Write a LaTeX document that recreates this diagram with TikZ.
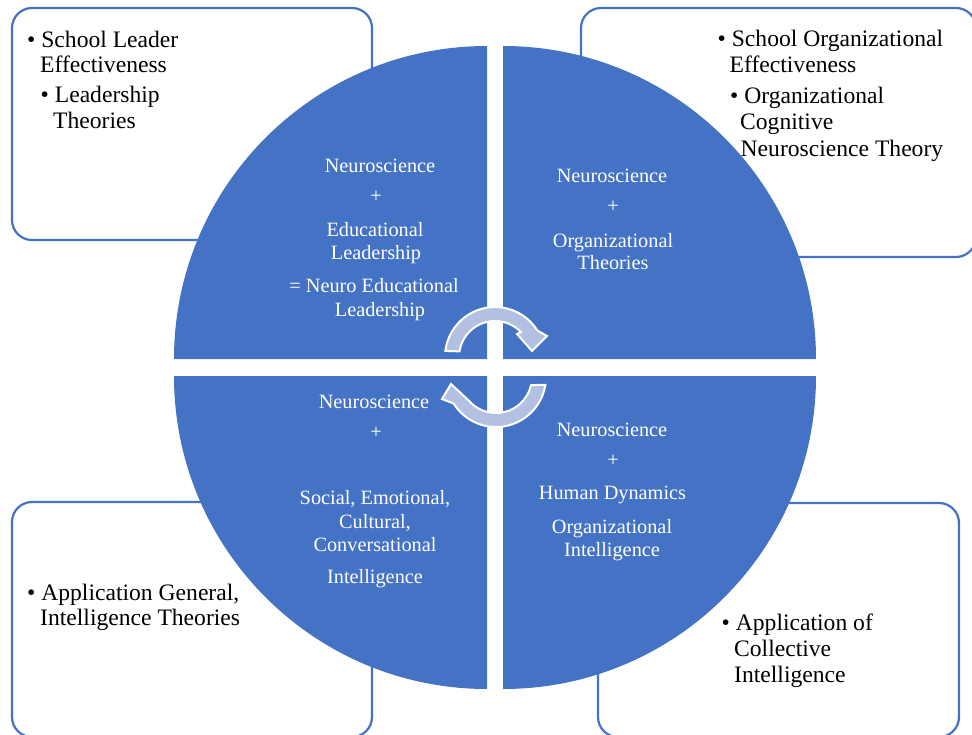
\documentclass[tikz,border=0pt]{standalone}
\usepackage{fontspec}
\setmainfont{Liberation Serif}
\usetikzlibrary{calc}
\definecolor{quadblue}{RGB}{68,114,196}
\definecolor{arrowfill}{RGB}{178,192,226}
\begin{document}
\begin{tikzpicture}[x=1pt,y=-1pt,
  panel/.style={draw=quadblue, line width=2.2pt, fill=white, rounded corners=20pt},
  quarter/.style={fill=quadblue},
  cyclearrow/.style={fill=arrowfill, draw=white, line width=2pt, line join=miter},
  boxtext/.style={anchor=base west, inner sep=0pt, font=\fontsize{23.6}{26}\selectfont, text=black},
  quadtext/.style={anchor=base, inner sep=0pt, font=\fontsize{20.3}{23}\selectfont, text=white}]
\useasboundingbox (0,0) rectangle (972,734);
\clip (0,0) rectangle (972,734);

% corner panels behind the disc
\draw[panel] (12,8) rectangle (372,240);
\draw[panel] (581,8) rectangle (976,257);
\draw[panel] (12,502) rectangle (372,737);
\draw[panel] (598,503) rectangle (959,737);

% the four quarters of the disc
\fill[quarter] (487,359) -- (174,359) arc[start angle=180,end angle=270,radius=313] -- cycle;
\fill[quarter] (503,359) -- (503,46) arc[start angle=270,end angle=360,radius=313] -- cycle;
\fill[quarter] (503,376) -- (816,376) arc[start angle=0,end angle=90,radius=313] -- cycle;
\fill[quarter] (487,376) -- (487,689) arc[start angle=90,end angle=180,radius=313] -- cycle;

% circular arrows in the middle
\coordinate (c1) at (495,357);
\coordinate (c2) at (496,377);
\draw[cyclearrow] ($(c1)+(187:50)$) arc[start angle=187,end angle=328,radius=50]
  -- (547,336) -- (532,351) -- (517,334) -- ($(c1)+(316:36)$)
  arc[start angle=316,end angle=189,radius=36] -- cycle;
\draw[cyclearrow] ($(c2)+(9:50)$) arc[start angle=9,end angle=148,radius=50]
  -- (442,399) -- (451,384) -- ($(c2)+(139:36)$)
  arc[start angle=139,end angle=13,radius=36] -- cycle;

% panel texts
\node[boxtext] (tl1) at (27,47) {• School Leader};
\node[boxtext] (tl2) at (40,72) {Effectiveness};
\node[boxtext] (tl3) at (40.5,102) {• Leadership};
\node[boxtext] (tl4) at (53,128) {Theories};

\node[boxtext] (tr1) at (717.5,46) {• School Organizational};
\node[boxtext] (tr2) at (729.5,72) {Effectiveness};
\node[boxtext] (tr3) at (730,103) {• Organizational};
\node[boxtext] (tr4) at (740,129) {Cognitive};
\node[boxtext] (tr5) at (740.5,156) {Neuroscience Theory};

\node[boxtext] (bl1) at (27,600) {• Application General,};
\node[boxtext] (bl2) at (40,625) {Intelligence Theories};

\node[boxtext] (br1) at (721.5,630) {• Application of};
\node[boxtext] (br2) at (734,656) {Collective};
\node[boxtext] (br3) at (734,682) {Intelligence};

% quarter texts
\node[quadtext] (q1a) at (380,172) {Neuroscience};
\node[quadtext] (q1b) at (376,202) {+};
\node[quadtext] (q1c) at (375,236) {Educational};
\node[quadtext] (q1d) at (376,259) {Leadership};
\node[quadtext] (q1e) at (374,292) {= Neuro Educational};
\node[quadtext] (q1f) at (380,316) {Leadership};

\node[quadtext] (q2a) at (612,182) {Neuroscience};
\node[quadtext] (q2b) at (613,212) {+};
\node[quadtext] (q2c) at (613,247) {Organizational};
\node[quadtext] (q2d) at (613,269) {Theories};

\node[quadtext] (q3a) at (374,408) {Neuroscience};
\node[quadtext] (q3b) at (376,438) {+};
\node[quadtext] (q3c) at (375,504) {Social, Emotional,};
\node[quadtext] (q3d) at (375,528) {Cultural,};
\node[quadtext] (q3e) at (375,551) {Conversational};
\node[quadtext] (q3f) at (375,583) {Intelligence};

\node[quadtext] (q4a) at (612,436) {Neuroscience};
\node[quadtext] (q4b) at (613,466) {+};
\node[quadtext] (q4c) at (612.5,499) {Human Dynamics};
\node[quadtext] (q4d) at (612,533) {Organizational};
\node[quadtext] (q4e) at (612,556) {Intelligence};
\end{tikzpicture}
\end{document}
